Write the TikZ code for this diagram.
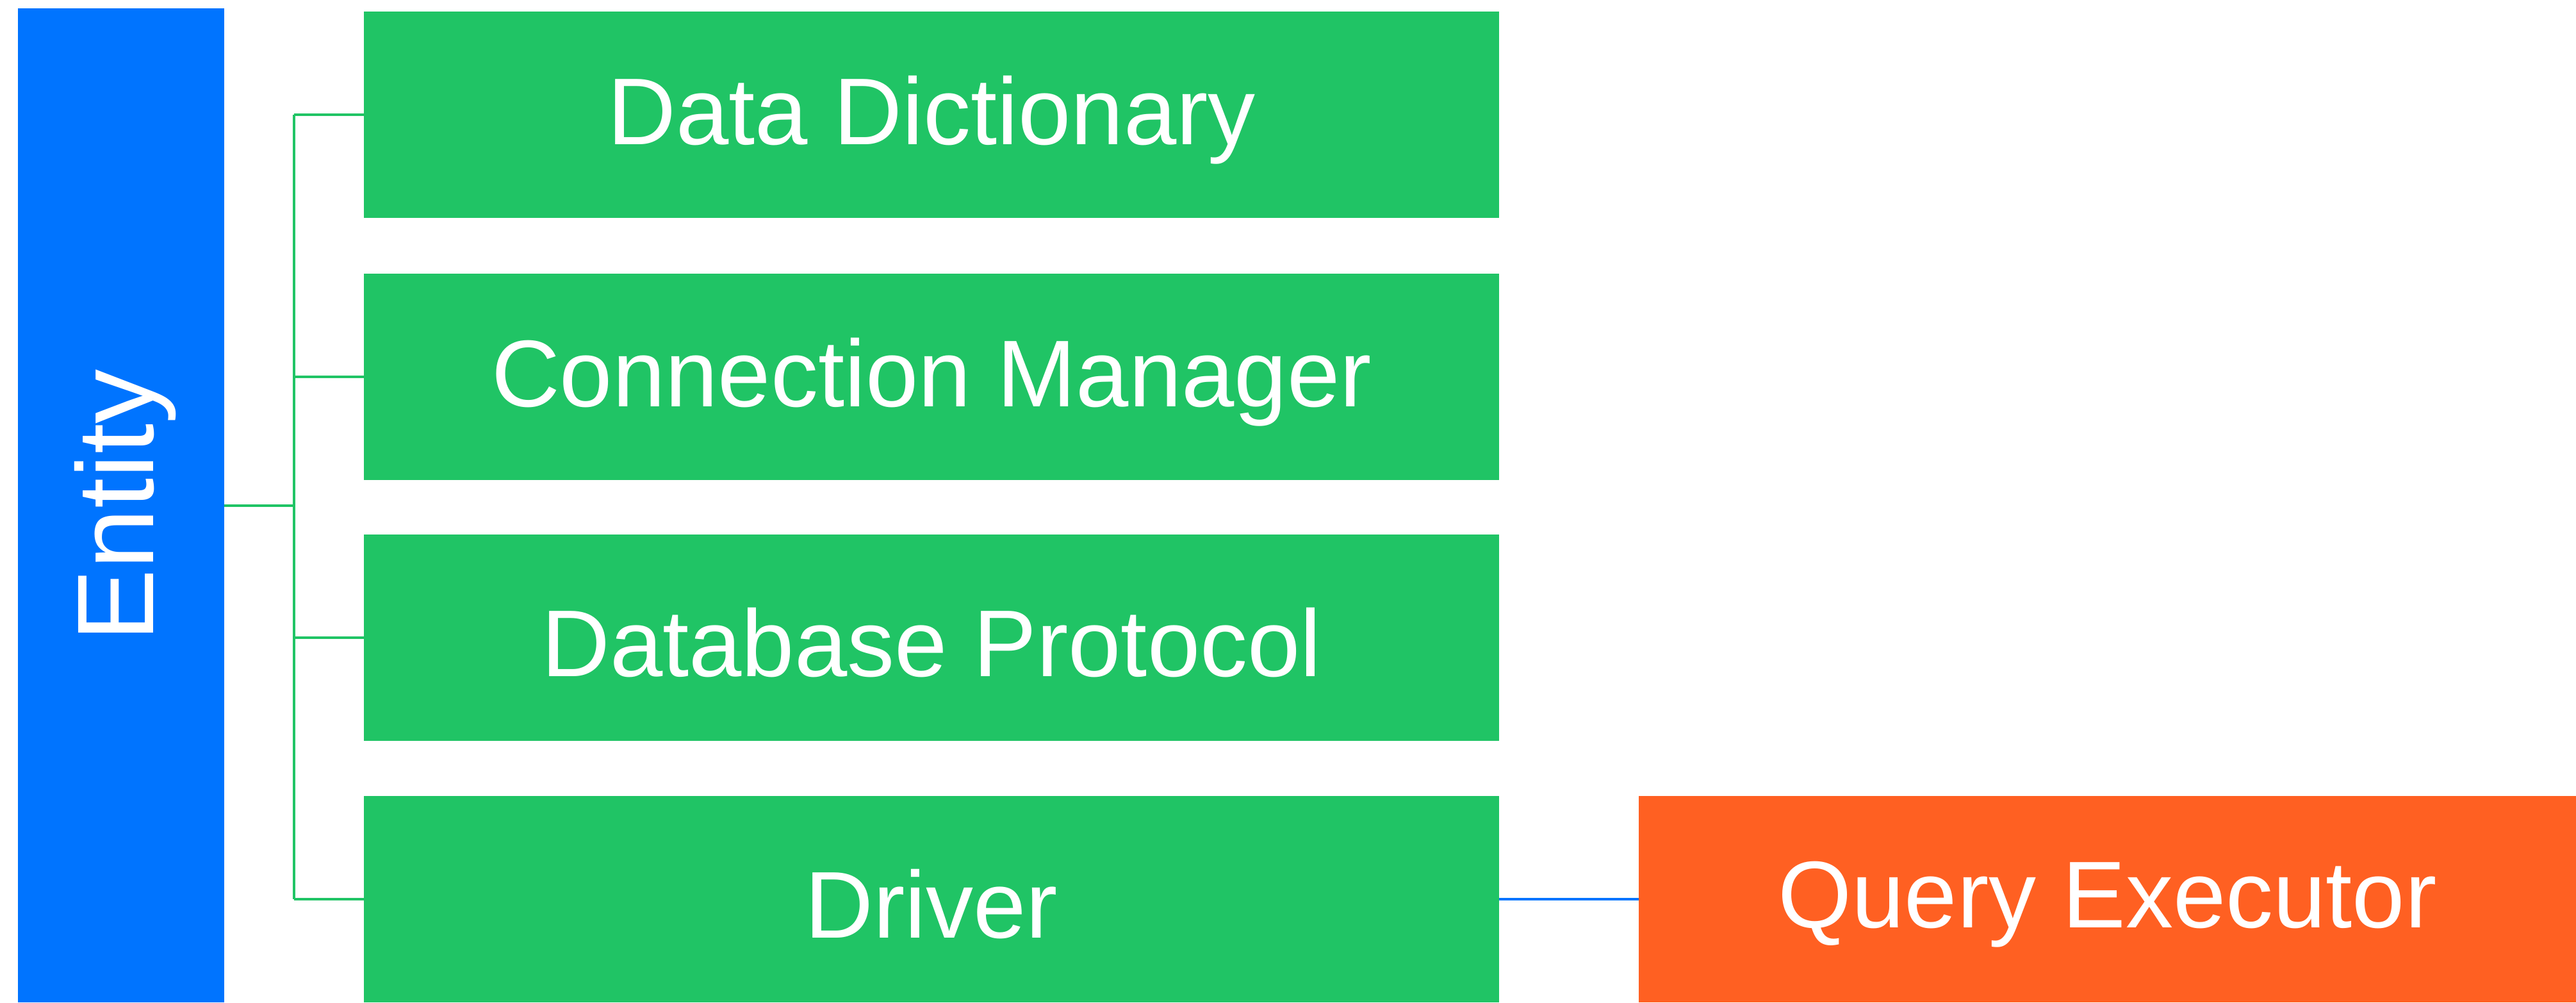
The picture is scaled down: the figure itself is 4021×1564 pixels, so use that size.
\documentclass[tikz,border=0pt]{standalone}
\usepackage{fontspec}
\setmainfont{Liberation Sans}
\definecolor{entblue}{HTML}{0074FF}
\definecolor{modgreen}{HTML}{20C465}
\definecolor{qorange}{HTML}{FF6022}
\begin{document}
\begin{tikzpicture}[x={(0.25pt,0)},y={(0,-0.25pt)},
  box/.style={draw=none,inner sep=0pt,outer sep=0pt},
  greenbox/.style={box,fill=modgreen,minimum width=443pt,minimum height=80.5pt},
  lbl/.style={text=white,inner sep=0pt,font=\fontsize{37}{44}\selectfont,yshift=-2pt},
  link/.style={draw=modgreen,line width=1pt},
  bluelink/.style={draw=entblue,line width=1pt}]
\useasboundingbox (0,0) rectangle (4021,1564);
\node[box,fill=entblue,minimum width=80.5pt,minimum height=387.75pt] (entity) at (189,788.5) {};
\node[text=white,rotate=90,font=\fontsize{42.5}{50}\selectfont,inner sep=0pt] (entitytxt) at (196,789) {Entity};
\node[greenbox] (d1) at (1454,179) {};
\node[greenbox] (d2) at (1454,588) {};
\node[greenbox] (d3) at (1454,995) {};
\node[greenbox] (d4) at (1454,1403) {};
\node[box,fill=qorange,minimum width=365.75pt,minimum height=80.5pt] (qe) at (3289.5,1403) {};
\node[lbl] (t1) at (d1.center) {Data Dictionary};
\node[lbl] (t2) at (d2.center) {Connection Manager};
\node[lbl] (t3) at (d3.center) {Database Protocol};
\node[lbl] (t4) at (d4.center) {Driver};
\node[lbl] (t5) at (qe.center) {Query Executor};
\coordinate (bus) at (459,791);
\draw[link] (entity.east) -- (entity.east -| bus);
\draw[link] (d1.west -| bus) -- (d4.west -| bus);
\draw[link] (d1.west -| bus) -- (d1.west);
\draw[link] (d2.west -| bus) -- (d2.west);
\draw[link] (d3.west -| bus) -- (d3.west);
\draw[link] (d4.west -| bus) -- (d4.west);
\draw[bluelink] (d4.east) -- (qe.west);
\end{tikzpicture}
\end{document}
